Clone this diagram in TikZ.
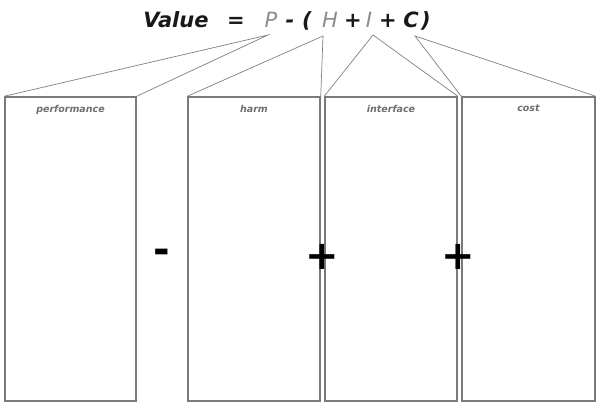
\documentclass[tikz,border=0pt]{standalone}
\usepackage{fontspec}
\setmainfont{DejaVu Sans}
\usepackage{tikz}
\usetikzlibrary{positioning}

\definecolor{boxgray}{HTML}{7A7A7A}
\definecolor{letgray}{HTML}{8C8C8C}
\definecolor{labgray}{HTML}{6E6E6E}

\tikzset{
	part/.style={draw=boxgray, line width=1.5pt, minimum height=304pt, inner sep=0pt},
	lab/.style={font=\fontsize{9.5}{10}\selectfont\bfseries\itshape, text=labgray, inner sep=0pt},
	eq/.style={font=\fontsize{21}{24}\selectfont\bfseries\itshape, text=black!90, anchor=base, inner sep=0pt},
	eqlight/.style={eq, font=\fontsize{21}{24}\selectfont\itshape, text=letgray},
	sign/.style={font=\fontsize{40}{40}\selectfont\bfseries, inner sep=0pt},
	spoke/.style={draw=gray, line width=0.7pt}
}

\begin{document}
\begin{tikzpicture}[x=1pt,y=-1pt]
	\useasboundingbox (0,0) rectangle (597,404);
	% the equation
	\node[eq] (val) at (176,28) {Value};
	\node[eq] (eqs) at (236,28) {=};
	\node[eqlight] (P) at (271,28) {P};
	\node[eq] (mi) at (290,28) {-};
	\node[eq] (lp) at (307,28) {(};
	\node[eqlight] (H) at (330,28) {H};
	\node[eq] (pa) at (353,28) {+};
	\node[eqlight] (I) at (369,28) {I};
	\node[eq] (pb) at (388,28) {+};
	\node[eq] (C) at (411,28) {C};
	\node[eq] (rp) at (426,28) {)};
	\coordinate (pP) at (268,35);
	\coordinate (pH) at (323,36);
	\coordinate (pI) at (373,35);
	\coordinate (pC) at (415,36);

	% the four parts
	\foreach \name/\x/\w/\txt in {perf/70.5/131/performance, harm/254/132/harm, iface/391/132/interface, cost/528.5/133/cost}{
		\node[part, minimum width=\w pt] (\name) at (\x,249) {};
		\node[lab, below=8.5pt of \name.north] (\name lab) {\txt};
	}

	\draw[spoke] (perf.north west) -- (pP) -- (perf.north east);
	\draw[spoke] (harm.north west) -- (pH) -- (harm.north east);
	\draw[spoke] (iface.north west) -- (pI) -- (iface.north east);
	\draw[spoke] (cost.north west) -- (pC) -- (cost.north east);

	\node[sign] (minus) at (162,256) {-};
	\node[sign] (plusa) at (322,257) {+};
	\node[sign] (plusb) at (458,257) {+};
\end{tikzpicture}
\end{document}
